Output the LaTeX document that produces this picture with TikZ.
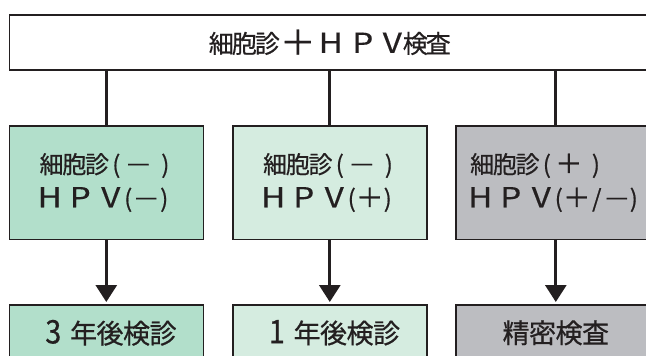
\documentclass[tikz,border=0pt]{standalone}
\usepackage{fontspec}
\usepackage{graphicx}
\setmainfont{Noto Sans CJK JP}[FakeBold=0.6]
\newfontfamily\plainjp{Noto Sans CJK JP}[FakeBold=0.3]
\usetikzlibrary{arrows.meta}
\definecolor{ink}{HTML}{231F20}
\definecolor{gA}{HTML}{B2DFCB}
\definecolor{gB}{HTML}{D5ECE0}
\definecolor{gC}{HTML}{BCBDC1}
\newcommand{\kb}[2]{\makebox[#1pt][c]{#2}}
\newcommand{\la}[1]{{\plainjp\fontsize{23}{23}\selectfont\scalebox{1.45}[1.2]{#1}}}
\newcommand{\mn}{{\plainjp\fontsize{23}{23}\selectfont\scalebox{1.22}[1]{－}}}
\newcommand{\pl}{{\plainjp\fontsize{23}{23}\selectfont\scalebox{1.2}[1.15]{＋}}}
\newcommand{\HPV}{\kb{19}{\la{H}}\hspace{11.5pt}\kb{19}{\la{P}}\hspace{11.5pt}\kb{19}{\la{V}}}
\newcommand{\saibo}[1]{\kb{22.7}{細}\kb{22.7}{胞}\kb{22.7}{診}\kb{16}{(}\kb{28}{#1}\hspace{6pt}\kb{14}{)}}
\newcommand{\dig}[1]{\kb{34}{{\fontsize{25}{25}\selectfont\scalebox{1.15}[1.3]{#1}}}}
\begin{document}
\begin{tikzpicture}[x=1pt,y=-1pt,
  box/.style={draw=ink, line width=1.6pt, inner sep=0pt, text=ink, anchor=north west},
  midbox/.style={box, minimum width=194pt, minimum height=113.5pt, align=left, font=\fontsize{24}{34}\selectfont},
  lowbox/.style={box, minimum width=194pt, minimum height=56pt, font=\fontsize{27}{30}\selectfont},
  conn/.style={draw=ink, line width=3pt},
  arr/.style={conn, shorten >=2pt, -{Triangle[width=21pt,length=17pt]}}]
\useasboundingbox (0,0) rectangle (646,356);
\node[box, fill=white, minimum width=641pt, minimum height=55pt, font=\fontsize{25}{28}\selectfont] (top) at (8.5,14)
  {\kb{23}{細}\kb{23}{胞}\kb{23}{診}\kb{38}{\raisebox{-2pt}{\scalebox{1.3}{\pl}}}\kb{28}{\la{H}}\kb{36}{\la{P}}\kb{23}{\la{V}}\kb{23}{検}\kb{23}{査}};
\node[midbox, fill=gA] (m1) at (8.5,125) {\saibo{\mn}\\\HPV\kb{16}{(}\kb{20}{\mn}\kb{16}{)}};
\node[midbox, fill=gB] (m2) at (232,125) {\saibo{\mn}\\\HPV\kb{16}{(}\kb{20}{\pl}\kb{16}{)}};
\node[midbox, fill=gC, minimum width=200pt] (m3) at (455,125) {\saibo{\pl}\\\HPV\kb{16}{(}\kb{20}{\pl}\kb{20}{/}\kb{20}{\mn}\kb{14}{)}};
\node[lowbox, fill=gA] (b1) at (8.5,304) {\dig{3}\kb{26.5}{年}\kb{26.5}{後}\kb{26.5}{検}\kb{26.5}{診}};
\node[lowbox, fill=gB] (b2) at (232,304) {\dig{1}\kb{26.5}{年}\kb{26.5}{後}\kb{26.5}{検}\kb{26.5}{診}};
\node[lowbox, fill=gC, minimum width=200pt] (b3) at (455,304) {\kb{26.5}{精}\kb{26.5}{密}\kb{26.5}{検}\kb{26.5}{査}};
\draw[conn] (m1.north |- top.south) -- (m1.north);
\draw[conn] (m2.north |- top.south) -- (m2.north);
\draw[conn] (m3.north |- top.south) -- (m3.north);
\draw[arr] (m1.south) -- (b1.north);
\draw[arr] (m2.south) -- (b2.north);
\draw[arr] (m3.south) -- (b3.north);
\end{tikzpicture}
\end{document}
